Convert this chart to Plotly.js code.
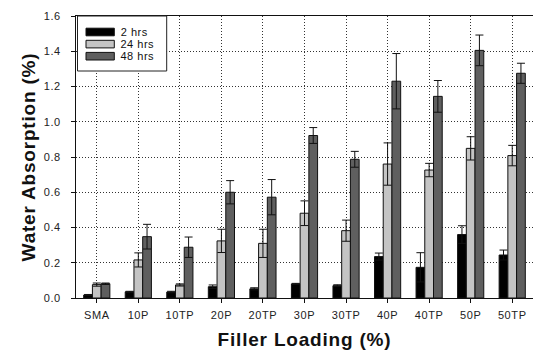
<!DOCTYPE html>
<html>
<head>
<meta charset="utf-8">
<script src="https://cdn.plot.ly/plotly-3.0.1.min.js"></script>
<style>
html,body{margin:0;padding:0;background:#fff;}
#chart{width:533px;height:354px;}
#chart .xtick text, #chart .ytick text {letter-spacing:0.6px;}
#chart .annotation-text {letter-spacing:0.5px;}
#chart .xtitle, #chart .ytitle {letter-spacing:0.8px;}
</style>
</head>
<body>
<div id="chart"></div>
<script>
var categories = ['SMA','10P','10TP','20P','20TP','30P','30TP','40P','40TP','50P','50TP'];
var seriesNames = ['2 hrs','24 hrs','48 hrs'];
var hrs2 = [0.017,0.035,0.034,0.064,0.052,0.080,0.070,0.235,0.174,0.360,0.244];
var hrs2Err = [0.003,0.003,0.004,0.010,0.006,0.003,0.005,0.020,0.083,0.050,0.028];
var hrs24 = [0.076,0.216,0.074,0.324,0.310,0.481,0.382,0.760,0.726,0.849,0.808];
var hrs24Err = [0.009,0.040,0.006,0.066,0.080,0.070,0.060,0.120,0.038,0.066,0.058];
var hrs48 = [0.081,0.348,0.288,0.600,0.572,0.922,0.787,1.230,1.144,1.405,1.275];
var hrs48Err = [0.004,0.070,0.058,0.066,0.100,0.045,0.045,0.157,0.090,0.087,0.057];
var yTicks = [0,0.2,0.4,0.6,0.8,1.0,1.2,1.4,1.6];

var W = 533, H = 354;
var M = {l:76, r:0, t:16, b:56};
var colors = ['#000000','#c4c4c4','#5f5f5f'];
var vals = [hrs2, hrs24, hrs48];
var errs = [hrs2Err, hrs24Err, hrs48Err];
var traces = vals.map(function(v,i){
  return {
    type:'bar', name: seriesNames[i], x: categories, y: v, showlegend:false,
    marker:{color: colors[i], line:{color:'#111', width:1}},
    error_y:{type:'data', array: errs[i], visible:true, color:'#111', thickness:1, width:4}
  };
});

// legend drawn as a framed key in the top-left corner (pixel -> paper helpers)
var pw = W - M.l - M.r, ph = H - M.t - M.b;
function px(x){ return (x - M.l) / pw; }
function py(y){ return (H - M.b - y) / ph; }
var shapes = [{type:'rect', xref:'paper', yref:'paper', x0:px(77.5), x1:px(166.7), y0:py(71), y1:py(16),
               line:{color:'#222', width:1}, fillcolor:'#fff', layer:'above'}];
var annotations = [];
seriesNames.forEach(function(n,i){
  var cy = 32 + i*12.1;
  shapes.push({type:'rect', xref:'paper', yref:'paper', x0:px(86), x1:px(114.3), y0:py(cy+3.8), y1:py(cy-3.8),
               line:{color:'#111', width:1}, fillcolor:colors[i], layer:'above'});
  annotations.push({xref:'paper', yref:'paper', x:px(120), y:py(cy), xanchor:'left', yanchor:'middle',
               text:n, showarrow:false, font:{size:11, color:'#111'}});
});

var layout = {
  width:W, height:H,
  margin:M,
  paper_bgcolor:'#fff', plot_bgcolor:'#fff',
  font:{family:'Arial, Liberation Sans, sans-serif', size:11, color:'#222'},
  barmode:'group', bargap:0.37, bargroupgap:0,
  showlegend:false,
  shapes:shapes, annotations:annotations,
  xaxis:{
    type:'category', range:[-0.5,10.5],
    showline:true, linecolor:'#111', linewidth:1, mirror:true,
    ticks:'outside', ticklen:4, tickcolor:'#111',
    showgrid:true, gridcolor:'#333', griddash:'1px,2px', gridwidth:1,
    ticklabelstandoff:3,
    title:{text:'Filler Loading (%)', font:{size:19, color:'#111', weight:'bold'}, standoff:12}
  },
  yaxis:{
    range:[0,1.6], tickvals:yTicks, tickformat:'.1f',
    showline:true, linecolor:'#111', linewidth:1,
    ticks:'outside', ticklen:4, tickcolor:'#111',
    showgrid:true, gridcolor:'#333', griddash:'1px,2px', gridwidth:1,
    zeroline:false, ticklabelstandoff:8,
    title:{text:'Water Absorption (%)', font:{size:19, color:'#111', weight:'bold'}, standoff:4}
  }
};
Plotly.newPlot('chart', traces, layout, {staticPlot:true, displayModeBar:false});
</script>
</body>
</html>
